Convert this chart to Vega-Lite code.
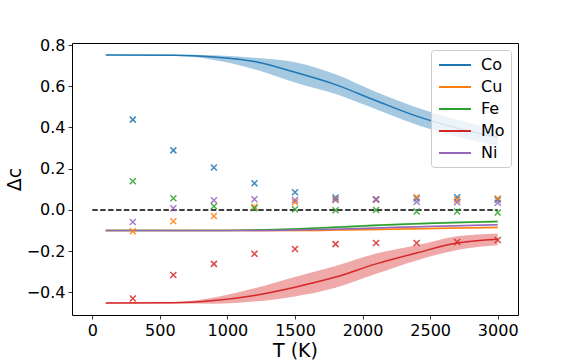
{
  "$schema": "https://vega.github.io/schema/vega-lite/v6.json",
  "width": 446,
  "height": 272,
  "autosize": {"type": "none"},
  "padding": {"left": 72, "top": 43, "right": 58, "bottom": 45},
  "background": "white",
  "config": {
    "font": "DejaVu Sans",
    "view": {"stroke": "black", "strokeWidth": 1},
    "axis": {
      "grid": false,
      "domain": false,
      "tickColor": "black",
      "tickSize": 4,
      "tickWidth": 0.8,
      "labelColor": "black",
      "labelFontSize": 16,
      "labelPadding": 3,
      "titleColor": "black",
      "titleFontSize": 19,
      "titleFontWeight": "normal"
    },
    "legend": {
      "title": null,
      "orient": "top-right",
      "offset": 7,
      "symbolType": "M-0.875,0H3.125",
      "symbolSize": 256,
      "symbolStrokeWidth": 2,
      "symbolOpacity": 1,
      "labelFontSize": 16,
      "labelColor": "black",
      "labelOffset": 26,
      "padding": 6,
      "rowPadding": 5,
      "fillColor": "rgba(255,255,255,0.8)",
      "strokeColor": "#cccccc",
      "cornerRadius": 3
    }
  },
  "datasets": {
    "curves": [
      {"el": "Co", "T": 100, "v": 0.752, "lo": 0.750, "hi": 0.754},
      {"el": "Co", "T": 600, "v": 0.751, "lo": 0.748, "hi": 0.754},
      {"el": "Co", "T": 900, "v": 0.742, "lo": 0.728, "hi": 0.750},
      {"el": "Co", "T": 1200, "v": 0.720, "lo": 0.683, "hi": 0.738},
      {"el": "Co", "T": 1500, "v": 0.668, "lo": 0.618, "hi": 0.716},
      {"el": "Co", "T": 1800, "v": 0.608, "lo": 0.562, "hi": 0.658},
      {"el": "Co", "T": 2100, "v": 0.530, "lo": 0.488, "hi": 0.572},
      {"el": "Co", "T": 2400, "v": 0.455, "lo": 0.413, "hi": 0.497},
      {"el": "Co", "T": 2700, "v": 0.397, "lo": 0.355, "hi": 0.437},
      {"el": "Co", "T": 3000, "v": 0.351, "lo": 0.312, "hi": 0.388},
      {"el": "Cu", "T": 100, "v": -0.100, "lo": -0.102, "hi": -0.098},
      {"el": "Cu", "T": 600, "v": -0.100, "lo": -0.102, "hi": -0.098},
      {"el": "Cu", "T": 900, "v": -0.100, "lo": -0.102, "hi": -0.098},
      {"el": "Cu", "T": 1200, "v": -0.100, "lo": -0.103, "hi": -0.097},
      {"el": "Cu", "T": 1500, "v": -0.100, "lo": -0.104, "hi": -0.096},
      {"el": "Cu", "T": 1800, "v": -0.098, "lo": -0.102, "hi": -0.094},
      {"el": "Cu", "T": 2100, "v": -0.095, "lo": -0.099, "hi": -0.091},
      {"el": "Cu", "T": 2400, "v": -0.092, "lo": -0.096, "hi": -0.088},
      {"el": "Cu", "T": 2700, "v": -0.088, "lo": -0.092, "hi": -0.084},
      {"el": "Cu", "T": 3000, "v": -0.085, "lo": -0.089, "hi": -0.081},
      {"el": "Fe", "T": 100, "v": -0.100, "lo": -0.102, "hi": -0.098},
      {"el": "Fe", "T": 600, "v": -0.100, "lo": -0.102, "hi": -0.098},
      {"el": "Fe", "T": 900, "v": -0.100, "lo": -0.102, "hi": -0.098},
      {"el": "Fe", "T": 1200, "v": -0.098, "lo": -0.101, "hi": -0.095},
      {"el": "Fe", "T": 1500, "v": -0.093, "lo": -0.097, "hi": -0.089},
      {"el": "Fe", "T": 1800, "v": -0.084, "lo": -0.089, "hi": -0.079},
      {"el": "Fe", "T": 2100, "v": -0.075, "lo": -0.080, "hi": -0.070},
      {"el": "Fe", "T": 2400, "v": -0.067, "lo": -0.072, "hi": -0.062},
      {"el": "Fe", "T": 2700, "v": -0.061, "lo": -0.066, "hi": -0.056},
      {"el": "Fe", "T": 3000, "v": -0.056, "lo": -0.061, "hi": -0.051},
      {"el": "Mo", "T": 100, "v": -0.452, "lo": -0.455, "hi": -0.449},
      {"el": "Mo", "T": 600, "v": -0.451, "lo": -0.454, "hi": -0.447},
      {"el": "Mo", "T": 900, "v": -0.440, "lo": -0.455, "hi": -0.425},
      {"el": "Mo", "T": 1200, "v": -0.415, "lo": -0.445, "hi": -0.380},
      {"el": "Mo", "T": 1500, "v": -0.375, "lo": -0.420, "hi": -0.325},
      {"el": "Mo", "T": 1800, "v": -0.326, "lo": -0.378, "hi": -0.272},
      {"el": "Mo", "T": 2100, "v": -0.262, "lo": -0.310, "hi": -0.212},
      {"el": "Mo", "T": 2400, "v": -0.209, "lo": -0.245, "hi": -0.172},
      {"el": "Mo", "T": 2700, "v": -0.161, "lo": -0.195, "hi": -0.128},
      {"el": "Mo", "T": 3000, "v": -0.142, "lo": -0.172, "hi": -0.114},
      {"el": "Ni", "T": 100, "v": -0.100, "lo": -0.102, "hi": -0.098},
      {"el": "Ni", "T": 600, "v": -0.100, "lo": -0.102, "hi": -0.098},
      {"el": "Ni", "T": 900, "v": -0.100, "lo": -0.102, "hi": -0.098},
      {"el": "Ni", "T": 1200, "v": -0.100, "lo": -0.103, "hi": -0.097},
      {"el": "Ni", "T": 1500, "v": -0.098, "lo": -0.102, "hi": -0.094},
      {"el": "Ni", "T": 1800, "v": -0.094, "lo": -0.098, "hi": -0.090},
      {"el": "Ni", "T": 2100, "v": -0.088, "lo": -0.092, "hi": -0.084},
      {"el": "Ni", "T": 2400, "v": -0.082, "lo": -0.086, "hi": -0.078},
      {"el": "Ni", "T": 2700, "v": -0.077, "lo": -0.081, "hi": -0.073},
      {"el": "Ni", "T": 3000, "v": -0.072, "lo": -0.076, "hi": -0.068}
    ],
    "points": [
      {"el": "Co", "T": 300, "v": 0.438}, {"el": "Co", "T": 600, "v": 0.289}, {"el": "Co", "T": 900, "v": 0.206},
      {"el": "Co", "T": 1200, "v": 0.129}, {"el": "Co", "T": 1500, "v": 0.086}, {"el": "Co", "T": 1800, "v": 0.060},
      {"el": "Co", "T": 2100, "v": 0.052}, {"el": "Co", "T": 2400, "v": 0.055}, {"el": "Co", "T": 2700, "v": 0.061},
      {"el": "Co", "T": 3000, "v": 0.050},
      {"el": "Cu", "T": 300, "v": -0.104}, {"el": "Cu", "T": 600, "v": -0.055}, {"el": "Cu", "T": 900, "v": -0.030},
      {"el": "Cu", "T": 1200, "v": 0.015}, {"el": "Cu", "T": 1500, "v": 0.037}, {"el": "Cu", "T": 1800, "v": 0.052},
      {"el": "Cu", "T": 2100, "v": 0.050}, {"el": "Cu", "T": 2400, "v": 0.061}, {"el": "Cu", "T": 2700, "v": 0.050},
      {"el": "Cu", "T": 3000, "v": 0.055},
      {"el": "Fe", "T": 300, "v": 0.139}, {"el": "Fe", "T": 600, "v": 0.057}, {"el": "Fe", "T": 900, "v": 0.018},
      {"el": "Fe", "T": 1200, "v": 0.008}, {"el": "Fe", "T": 1500, "v": 0.003}, {"el": "Fe", "T": 1800, "v": -0.002},
      {"el": "Fe", "T": 2100, "v": 0.000}, {"el": "Fe", "T": 2400, "v": -0.008}, {"el": "Fe", "T": 2700, "v": -0.008},
      {"el": "Fe", "T": 3000, "v": -0.013},
      {"el": "Mo", "T": 300, "v": -0.430}, {"el": "Mo", "T": 600, "v": -0.316}, {"el": "Mo", "T": 900, "v": -0.262},
      {"el": "Mo", "T": 1200, "v": -0.213}, {"el": "Mo", "T": 1500, "v": -0.190}, {"el": "Mo", "T": 1800, "v": -0.166},
      {"el": "Mo", "T": 2100, "v": -0.161}, {"el": "Mo", "T": 2400, "v": -0.161}, {"el": "Mo", "T": 2700, "v": -0.156},
      {"el": "Mo", "T": 3000, "v": -0.146},
      {"el": "Ni", "T": 300, "v": -0.059}, {"el": "Ni", "T": 600, "v": 0.008}, {"el": "Ni", "T": 900, "v": 0.047},
      {"el": "Ni", "T": 1200, "v": 0.052}, {"el": "Ni", "T": 1500, "v": 0.048}, {"el": "Ni", "T": 1800, "v": 0.048},
      {"el": "Ni", "T": 2100, "v": 0.050}, {"el": "Ni", "T": 2400, "v": 0.040}, {"el": "Ni", "T": 2700, "v": 0.037},
      {"el": "Ni", "T": 3000, "v": 0.035}
    ]
  },
  "layer": [
    {
      "data": {"name": "curves"},
      "mark": {"type": "area", "opacity": 0.4, "interpolate": "monotone"},
      "encoding": {
        "x": {
          "field": "T", "type": "quantitative",
          "scale": {"domain": [-150, 3150], "nice": false, "zero": false},
          "axis": {"values": [0, 500, 1000, 1500, 2000, 2500, 3000], "format": "d", "title": "T (K)", "titlePadding": 3}
        },
        "y": {
          "field": "lo", "type": "quantitative",
          "scale": {"domain": [-0.51, 0.81], "nice": false, "zero": false},
          "axis": {"values": [-0.4, -0.2, 0, 0.2, 0.4, 0.6, 0.8], "format": ".1f", "title": "Δc", "titlePadding": 2}
        },
        "y2": {"field": "hi"},
        "color": {
          "field": "el", "type": "nominal",
          "scale": {"domain": ["Co", "Cu", "Fe", "Mo", "Ni"], "range": ["#1f77b4", "#ff7f0e", "#2ca02c", "#d62728", "#9467bd"]}
        }
      }
    },
    {
      "data": {"name": "curves"},
      "mark": {"type": "line", "strokeWidth": 1.5, "interpolate": "monotone"},
      "encoding": {
        "x": {"field": "T", "type": "quantitative"},
        "y": {"field": "v", "type": "quantitative"},
        "color": {"field": "el", "type": "nominal"}
      }
    },
    {
      "data": {"values": [{"a": 0}]},
      "mark": {"type": "rule", "color": "black", "strokeWidth": 1.5, "strokeDash": [5.5, 2.4]},
      "encoding": {
        "x": {"datum": 0, "type": "quantitative"},
        "x2": {"datum": 3000},
        "y": {"datum": 0, "type": "quantitative"}
      }
    },
    {
      "data": {"name": "points"},
      "mark": {"type": "point", "shape": "M-1,-1L1,1M-1,1L1,-1", "filled": false, "strokeWidth": 1.5, "size": 36, "opacity": 0.85},
      "encoding": {
        "x": {"field": "T", "type": "quantitative"},
        "y": {"field": "v", "type": "quantitative"},
        "color": {"field": "el", "type": "nominal"}
      }
    }
  ]
}
